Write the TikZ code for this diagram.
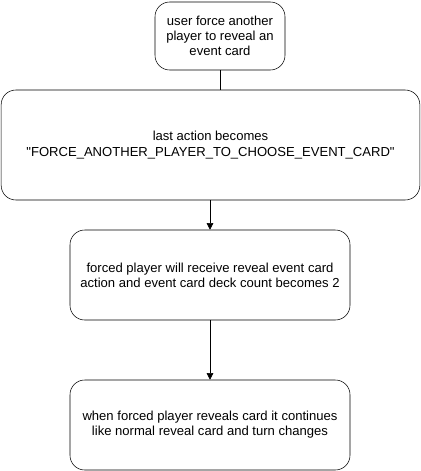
\documentclass[tikz,border=0pt]{standalone}
\usepackage{fontspec}
\setmainfont{Liberation Sans}
\usepackage{tikz}
\usetikzlibrary{arrows.meta}
\tikzset{
stepbox/.style={draw, rounded corners=11pt, align=center, font=\fontsize{9.8}{11.4}\selectfont, inner sep=0pt},
flow/.style={-{Triangle[length=5pt,width=5pt]}}
}

\begin{document}
\begin{tikzpicture}[x=0.75pt,y=-0.75pt]
\useasboundingbox (0,0) rectangle (421,471);
\node[stepbox, minimum width=97.5pt, minimum height=51pt] (force) at (220,36) {user force another\\player to reveal an\\event card};
\node[stepbox, minimum width=314pt, minimum height=82.5pt] (last) at (210.5,145) {last action becomes\\\textquotedbl FORCE\_ANOTHER\_PLAYER\_TO\_CHOOSE\_EVENT\_CARD\textquotedbl};
\node[stepbox, minimum width=210pt, minimum height=67.5pt] (receive) at (210,275) {forced player will receive reveal event card\\action and event card deck count becomes 2};
\node[stepbox, minimum width=210pt, minimum height=67.5pt] (reveal) at (210,425) {when forced player reveals card it continues\\like normal reveal card and turn changes};
\draw (force.south) -- (force.south |- last.north) ;
\draw[flow] (last.south -| receive.north) -- (receive.north) ;
\draw[flow] (receive.south) -- (reveal.north) ;
\end{tikzpicture}
\end{document}
